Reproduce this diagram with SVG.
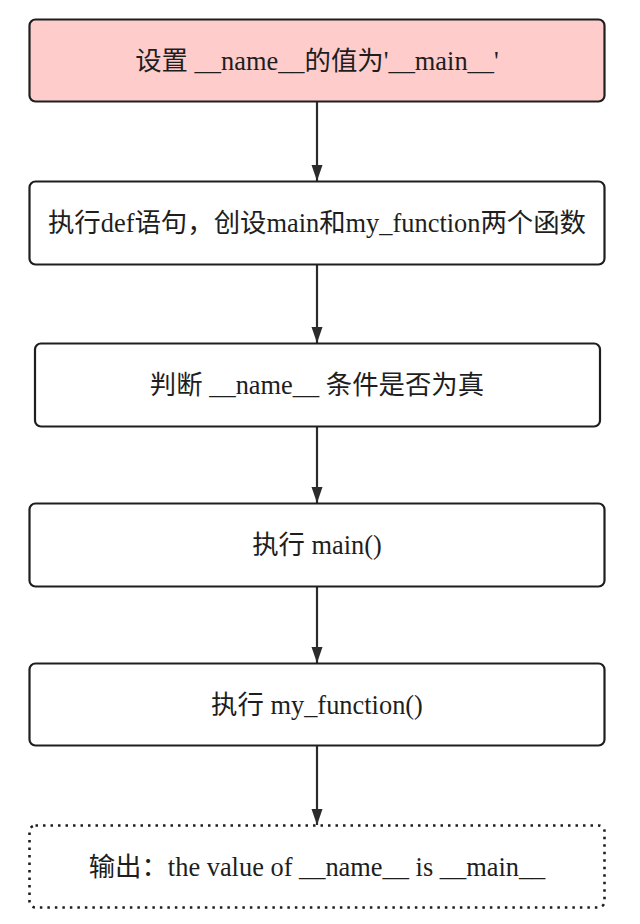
<svg xmlns="http://www.w3.org/2000/svg" width="640" height="924" viewBox="0 0 640 924">
  <style>
    .box { fill: #ffffff; stroke: #1e1e1e; stroke-width: 2.2; }
    .pink { fill: #ffcccc; }
    .dotted { stroke-dasharray: 2.5 5; stroke-width: 2.6; }
    .lbl { font-family: "Liberation Serif", "Noto Sans CJK SC", serif; font-size: 26.4px; fill: #1e1e1e; text-anchor: middle; }
    .edge { stroke: #2b2b2b; stroke-width: 2.2; fill: none; }
  </style>
  <defs>
    <marker id="ah" viewBox="0 0 16 12" refX="16" refY="6" markerWidth="16" markerHeight="12" markerUnits="userSpaceOnUse" orient="auto">
      <path d="M0,0.5 L16,6 L0,11.5 Z" fill="#2b2b2b"/>
    </marker>
  </defs>
  <rect width="640" height="924" fill="#ffffff"/>
  <g id="connectors">
    <line class="edge" x1="317" y1="102" x2="317" y2="181" marker-end="url(#ah)"/>
    <line class="edge" x1="317" y1="265" x2="317" y2="343" marker-end="url(#ah)"/>
    <line class="edge" x1="317" y1="427" x2="317" y2="503" marker-end="url(#ah)"/>
    <line class="edge" x1="317" y1="587" x2="317" y2="663" marker-end="url(#ah)"/>
    <line class="edge" x1="317" y1="746" x2="317" y2="825" marker-end="url(#ah)"/>
  </g>
  <g id="node1">
    <rect class="box pink" x="29.5" y="19.5" width="575" height="82" rx="6"/>
    <text class="lbl" x="317" y="69.5">设置 __name__的值为'__main__'</text>
  </g>
  <g id="node2">
    <rect class="box" x="29.5" y="181.5" width="575" height="83" rx="6"/>
    <text class="lbl" x="317" y="232">执行def语句，创设main和my_function两个函数</text>
  </g>
  <g id="node3">
    <rect class="box" x="35" y="343.5" width="565" height="83" rx="6"/>
    <text class="lbl" x="317" y="394">判断 __name__ 条件是否为真</text>
  </g>
  <g id="node4">
    <rect class="box" x="29.5" y="503.5" width="575" height="83" rx="6"/>
    <text class="lbl" x="317" y="554">执行 main()</text>
  </g>
  <g id="node5">
    <rect class="box" x="29.5" y="663.5" width="575" height="82" rx="6"/>
    <text class="lbl" x="317" y="713.5">执行 my_function()</text>
  </g>
  <g id="node6">
    <rect class="box dotted" x="29.5" y="825.5" width="575" height="82" rx="6"/>
    <text class="lbl" x="317" y="875.5">输出：the value of __name__ is __main__</text>
  </g>
</svg>
